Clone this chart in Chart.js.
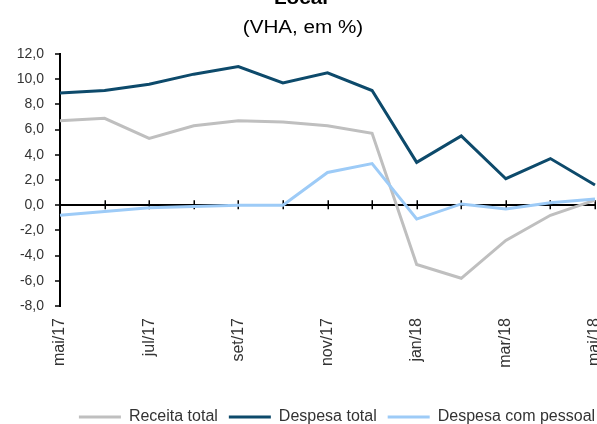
<!DOCTYPE html>
<html>
<head>
<meta charset="utf-8">
<script src="https://cdn.jsdelivr.net/npm/chart.js@4/dist/chart.umd.min.js"></script>
<style>
  html, body { margin: 0; padding: 0; background: #fff; }
  body { width: 597px; height: 424px; overflow: hidden; position: relative; }
  #wrap { position: absolute; left: 0; top: 0; width: 610px; height: 440px; }
</style>
</head>
<body>
<div id="wrap"><canvas id="c" width="610" height="440"></canvas></div>
<script>
// Monthly categories
const categories = ['mai/17','jun/17','jul/17','ago/17','set/17','out/17','nov/17','dez/17','jan/18','fev/18','mar/18','abr/18','mai/18'];

// Series (VHA, %)
const receitaTotal   = [6.7, 6.9, 5.3, 6.3, 6.7, 6.6, 6.3, 5.7, -4.7, -5.8, -2.8, -0.8, 0.4];
const despesaTotal   = [8.9, 9.1, 9.6, 10.4, 11.0, 9.7, 10.5, 9.1, 3.4, 5.5, 2.1, 3.7, 1.6];
const despesaPessoal = [-0.8, -0.5, -0.2, -0.1, 0.0, 0.0, 2.6, 3.3, -1.1, 0.1, -0.3, 0.2, 0.5];

// Axis range and labels
const yMin = -8, yMax = 12, yStep = 2;
const titleText = 'Local';
const subtitleText = '(VHA, em %)';

const fmt = v => v.toFixed(1).replace('.', ',');

// Title lines, drawn slightly widened
const header = {
  id: 'header',
  afterDraw(chart) {
    const ctx = chart.ctx;
    ctx.save();
    ctx.fillStyle = '#000';
    ctx.textAlign = 'center';
    ctx.textBaseline = 'alphabetic';
    ctx.translate(301, 4);
    ctx.scale(1.15, 1);
    ctx.font = 'bold 18px "Liberation Sans", Arial, sans-serif';
    ctx.fillText(titleText, 0, 0);
    ctx.restore();

    ctx.save();
    ctx.fillStyle = '#000';
    ctx.textAlign = 'center';
    ctx.textBaseline = 'alphabetic';
    ctx.translate(303, 33);
    ctx.scale(1.18, 1);
    ctx.font = '17.5px "Liberation Sans", Arial, sans-serif';
    ctx.fillText(subtitleText, 0, 0);
    ctx.restore();
  }
};

// Tick marks crossing the zero line at each category
const zeroTicks = {
  id: 'zeroTicks',
  beforeDatasetsDraw(chart) {
    const {ctx, scales: {x, y}} = chart;
    const y0 = y.getPixelForValue(0);
    ctx.save();
    ctx.strokeStyle = '#000';
    ctx.lineWidth = 1.5;
    ctx.beginPath();
    categories.forEach((c, i) => {
      const px = Math.round(x.getPixelForValue(i)) + 0.25;
      ctx.moveTo(px, y0 - 5);
      ctx.lineTo(px, y0 + 4);
    });
    ctx.stroke();
    ctx.restore();
  }
};

// Legend row sits to the right of centre, under the plot
const legendShift = {
  id: 'legendShift',
  afterLayout(chart) {
    if (chart.legend) {
      chart.legend.left += 39.5;
      chart.legend.right += 39.5;
    }
  }
};

const line = (label, data, color, order) => ({
  label, data, order,
  borderColor: color,
  backgroundColor: color,
  borderWidth: 3,
  pointRadius: 0,
  tension: 0,
  fill: false
});

new Chart(document.getElementById('c'), {
  type: 'line',
  data: {
    labels: categories,
    datasets: [
      line('Receita total', receitaTotal, '#BFBFBF', 3),
      line('Despesa total', despesaTotal, '#0D4A6B', 2),
      line('Despesa com pessoal', despesaPessoal, '#9DCBF7', 1)
    ]
  },
  options: {
    responsive: false,
    animation: false,
    layout: { padding: { top: 54, right: 15, bottom: 5, left: 0 } },
    plugins: {
      title: { display: false },
      tooltip: { enabled: false },
      legend: {
        position: 'bottom',
        fullSize: true,
        labels: {
          usePointStyle: true,
          pointStyle: 'line',
          pointStyleWidth: 42,
          padding: 11,
          color: '#333',
          font: { family: '"Liberation Sans", Arial, sans-serif', size: 16 },
          sort: (a, b) => a.datasetIndex - b.datasetIndex
        }
      }
    },
    scales: {
      x: {
        offset: false,
        grid: { display: false, drawTicks: false },
        border: { display: false },
        ticks: {
          autoSkip: false,
          maxRotation: 90,
          minRotation: 90,
          padding: 12,
          color: '#333',
          font: { family: '"Liberation Sans", Arial, sans-serif', size: 16 },
          callback: (v, i) => (i % 2 === 0 ? categories[i] : '')
        },
        afterFit: s => { s.height = 92; s.paddingLeft = 0; s.paddingRight = 0; }
      },
      y: {
        min: yMin,
        max: yMax,
        border: { display: true, color: '#000', width: 2 },
        grid: {
          drawOnChartArea: true,
          color: c => (c.tick && c.tick.value === 0 ? '#000' : 'rgba(0,0,0,0)'),
          lineWidth: 2,
          tickColor: '#000',
          tickLength: 5,
          tickWidth: 1.5
        },
        ticks: {
          stepSize: yStep,
          padding: 11,
          color: '#333',
          font: { family: '"Liberation Sans", Arial, sans-serif', size: 14 },
          callback: v => fmt(v)
        },
        afterFit: s => { s.width = 60; }
      }
    }
  },
  plugins: [header, zeroTicks, legendShift]
});
</script>
</body>
</html>
